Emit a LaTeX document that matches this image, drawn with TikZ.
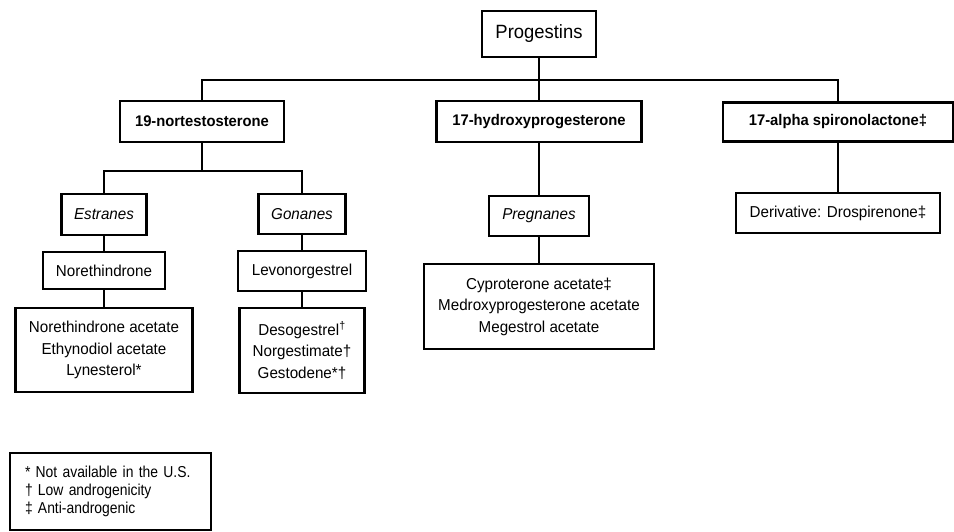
\documentclass[tikz,border=0pt]{standalone}
\usepackage{fontspec}
\setmainfont[FakeStretch=0.96]{Liberation Sans}
\newfontfamily\legendfont[FakeStretch=0.88]{Liberation Sans}
\begin{document}
\begin{tikzpicture}[x=1pt,y=-1pt,
  box/.style={draw, line width=2.4pt, inner sep=2pt, align=center,
    font=\fontsize{15.8}{21.5}\selectfont},
  headbox/.style={box, font=\fontsize{15.4}{18}\selectfont\bfseries},
  groupbox/.style={box, font=\fontsize{15.8}{18}\selectfont\itshape},
  conn/.style={line width=2pt}]
\useasboundingbox (0,0) rectangle (954,531);

% level 0
\node[box, minimum width=114pt, minimum height=46pt, font=\fontsize{19.2}{22}\selectfont] (prog) at (539,34) {Progestins};

% level 1
\node[headbox, minimum width=164pt, minimum height=41pt] (nort) at (202,121.5) {19-nortestosterone};
\node[headbox, minimum width=205pt, minimum height=41pt] (hydr) at (539,121.5) {17-hydroxyprogesterone};
\node[headbox, minimum width=230pt, minimum height=39pt] (spir) at (838,122) {17-alpha spironolactone‡};

% level 2
\node[groupbox, minimum width=85pt, minimum height=41pt] (estr) at (104,214.5) {Estranes};
\node[groupbox, minimum width=87pt, minimum height=40pt] (gona) at (302,214) {Gonanes};
\node[groupbox, minimum width=100pt, minimum height=40pt] (preg) at (539,216) {Pregnanes};
\node[box, minimum width=204pt, minimum height=40pt] (deri) at (838,213) {Derivative: Drospirenone‡};

% level 3
\node[box, minimum width=122pt, minimum height=37pt] (noreth) at (104,270.5) {Norethindrone};
\node[box, minimum width=128pt, minimum height=40pt] (levo) at (302,271) {Levonorgestrel};

% level 4
\node[box, minimum width=177pt, minimum height=84pt] (nac) at (104,350) {Norethindrone acetate\\Ethynodiol acetate\\Lynesterol*};
\node[box, minimum width=125pt, minimum height=85pt] (deso) at (302,350.5) {Desogestrel\textsuperscript{†}\\Norgestimate†\\Gestodene*†};
\node[box, minimum width=230pt, minimum height=85pt] (cypr) at (539,306.5) {Cyproterone acetate‡\\Medroxyprogesterone acetate\\Megestrol acetate};

% legend
\node[draw, line width=1.6pt, minimum width=201pt, minimum height=77pt, text width=171pt, align=left,
  font=\legendfont\fontsize{15.8}{18}\selectfont] (legend) at (110.5,491.5)
  {* Not available in the U.S.\\† Low androgenicity\\‡ Anti-androgenic};

% connectors
\draw[conn] (prog.south) -- ++(0,22) coordinate (j0);
\draw[conn] (nort.north) |- (j0) -| (spir.north);
\draw[conn] (hydr.north) -- (hydr.north |- j0);

\draw[conn] (nort.south) -- ++(0,28) coordinate (j1);
\draw[conn] (estr.north) |- (j1) -| (gona.north);

\draw[conn] (estr.south) -- (noreth.north);
\draw[conn] (noreth.south) -- (nac.north);
\draw[conn] (gona.south) -- (levo.north);
\draw[conn] (levo.south) -- (deso.north);

\draw[conn] (hydr.south) -- (preg.north);
\draw[conn] (preg.south) -- (cypr.north);

\draw[conn] (spir.south) -- (deri.north);
\end{tikzpicture}
\end{document}
